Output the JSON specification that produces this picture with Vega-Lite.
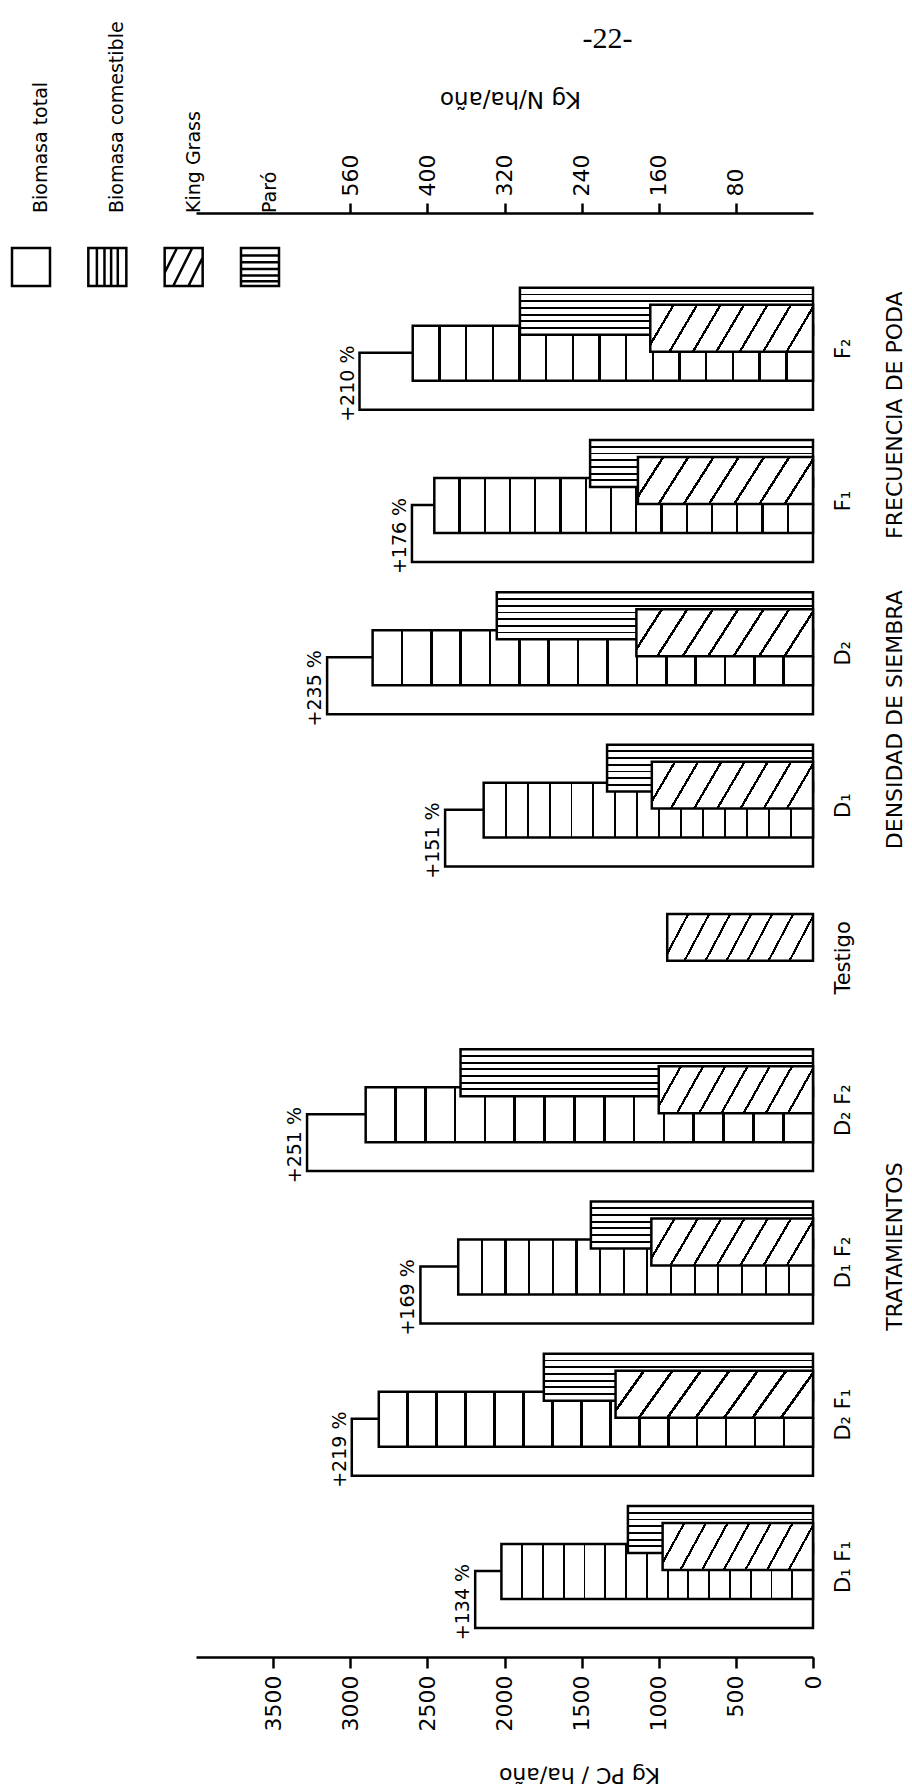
{
  "$schema": "https://vega.github.io/schema/vega-lite/v6.json",
  "width": 617,
  "height": 1511,
  "autosize": {"type": "none"},
  "padding": {"left": 196, "top": 146, "right": 99, "bottom": 131},
  "background": "white",
  "config": {
    "view": {"stroke": null},
    "font": "DejaVu Sans",
    "axis": {"labelColor": "black", "titleColor": "black", "domainColor": "black", "tickColor": "black", "grid": false, "labelFont": "DejaVu Sans", "titleFont": "DejaVu Sans", "titleFontWeight": "normal", "domainWidth": 2.5, "tickWidth": 2.5}
  },
  "title": {"text": "-22-", "font": "Liberation Serif", "fontSize": 30, "fontWeight": "normal", "color": "black", "anchor": "middle", "frame": "group", "dx": 103, "offset": -33},
  "datasets": {
    "bars": [
      {"cat": "D₁  F₁", "series": "Biomasa total", "value": 2190, "label": "+134 %"},
      {"cat": "D₁  F₁", "series": "Biomasa comestible", "value": 2020},
      {"cat": "D₁  F₁", "series": "Paró", "value": 1200},
      {"cat": "D₁  F₁", "series": "King Grass", "value": 975},
      {"cat": "D₂  F₁", "series": "Biomasa total", "value": 2990, "label": "+219 %"},
      {"cat": "D₂  F₁", "series": "Biomasa comestible", "value": 2815},
      {"cat": "D₂  F₁", "series": "Paró", "value": 1745},
      {"cat": "D₂  F₁", "series": "King Grass", "value": 1280},
      {"cat": "D₁  F₂", "series": "Biomasa total", "value": 2545, "label": "+169 %"},
      {"cat": "D₁  F₂", "series": "Biomasa comestible", "value": 2300},
      {"cat": "D₁  F₂", "series": "Paró", "value": 1440},
      {"cat": "D₁  F₂", "series": "King Grass", "value": 1048},
      {"cat": "D₂  F₂", "series": "Biomasa total", "value": 3280, "label": "+251 %"},
      {"cat": "D₂  F₂", "series": "Biomasa comestible", "value": 2900},
      {"cat": "D₂  F₂", "series": "Paró", "value": 2285},
      {"cat": "D₂  F₂", "series": "King Grass", "value": 1000},
      {"cat": "Testigo", "series": "King Grass", "value": 945},
      {"cat": "D₁", "series": "Biomasa total", "value": 2385, "label": "+151 %"},
      {"cat": "D₁", "series": "Biomasa comestible", "value": 2135},
      {"cat": "D₁", "series": "Paró", "value": 1335},
      {"cat": "D₁", "series": "King Grass", "value": 1045},
      {"cat": "D₂", "series": "Biomasa total", "value": 3150, "label": "+235 %"},
      {"cat": "D₂", "series": "Biomasa comestible", "value": 2855},
      {"cat": "D₂", "series": "Paró", "value": 2050},
      {"cat": "D₂", "series": "King Grass", "value": 1145},
      {"cat": "F₁", "series": "Biomasa total", "value": 2600, "label": "+176 %"},
      {"cat": "F₁", "series": "Biomasa comestible", "value": 2455},
      {"cat": "F₁", "series": "Paró", "value": 1445},
      {"cat": "F₁", "series": "King Grass", "value": 1135},
      {"cat": "F₂", "series": "Biomasa total", "value": 2940, "label": "+210 %"},
      {"cat": "F₂", "series": "Biomasa comestible", "value": 2595},
      {"cat": "F₂", "series": "Paró", "value": 1900},
      {"cat": "F₂", "series": "King Grass", "value": 1055}
    ],
    "groups": [
      {"grp": "TRATAMIENTOS", "cat": "D₁  F₂"},
      {"grp": "DENSIDAD DE   SIEMBRA", "cat": "D₂"},
      {"grp": "FRECUENCIA  DE  PODA", "cat": "F₂"}
    ],
    "legend": [
      {"series": "Biomasa total", "label": "Biomasa total"},
      {"series": "Biomasa comestible", "label": "Biomasa comestible"},
      {"series": "King Grass", "label": "King Grass"},
      {"series": "Paró", "label": "Paró"}
    ]
  },
  "layer": [
    {
      "data": {"name": "bars"},
      "layer": [
        {
          "transform": [{"filter": "datum.series === 'Biomasa total'"}],
          "mark": {"type": "bar", "fill": "white", "stroke": "black", "strokeWidth": 2.5, "height": {"band": 0.467}, "yOffset": 32.5},
          "encoding": {
            "x": {"field": "value", "type": "quantitative", "stack": null, "scale": {"domain": [0, 4000], "reverse": true, "nice": false, "zero": true},
              "axis": {"orient": "bottom", "values": [0, 500, 1000, 1500, 2000, 2500, 3000, 3500], "format": "d", "labelAngle": 270, "labelAlign": "right", "labelBaseline": "middle", "labelFontSize": 22, "labelPadding": 7, "labelFlush": false, "labelOverlap": false, "tickSize": 11, "title": "Kg PC / ha/año", "titleFontSize": 22, "titleAngle": 180, "titleAlign": "center", "titleBaseline": "middle", "titleX": 383, "titleY": 117}},
            "y": {"field": "cat", "type": "nominal",
              "scale": {"domain": ["F₂", "F₁", "D₂", "D₁", "Testigo", "D₂  F₂", "D₁  F₂", "D₂  F₁", "D₁  F₁"], "paddingInner": 0.2, "paddingOuter": 0.561, "align": 0.83},
              "axis": {"orient": "right", "title": null, "ticks": false, "labels": false, "domainWidth": 2.5}}
          }
        },
        {
          "transform": [{"filter": "datum.series === 'Biomasa comestible'"}],
          "mark": {"type": "bar", "stroke": "black", "strokeWidth": 2.5, "height": {"band": 0.451}, "yOffset": 4.5,
            "fill": {"gradient": "linear", "x1": 0, "y1": 0, "x2": 1, "y2": 0, "stops": [
              {"offset": 0, "color": "white"},
              {"offset": 0.0637, "color": "white"}, {"offset": 0.0637, "color": "black"}, {"offset": 0.0697, "color": "black"}, {"offset": 0.0697, "color": "white"},
              {"offset": 0.1303, "color": "white"}, {"offset": 0.1303, "color": "black"}, {"offset": 0.1363, "color": "black"}, {"offset": 0.1363, "color": "white"},
              {"offset": 0.197, "color": "white"}, {"offset": 0.197, "color": "black"}, {"offset": 0.203, "color": "black"}, {"offset": 0.203, "color": "white"},
              {"offset": 0.2637, "color": "white"}, {"offset": 0.2637, "color": "black"}, {"offset": 0.2697, "color": "black"}, {"offset": 0.2697, "color": "white"},
              {"offset": 0.3303, "color": "white"}, {"offset": 0.3303, "color": "black"}, {"offset": 0.3363, "color": "black"}, {"offset": 0.3363, "color": "white"},
              {"offset": 0.397, "color": "white"}, {"offset": 0.397, "color": "black"}, {"offset": 0.403, "color": "black"}, {"offset": 0.403, "color": "white"},
              {"offset": 0.4637, "color": "white"}, {"offset": 0.4637, "color": "black"}, {"offset": 0.4697, "color": "black"}, {"offset": 0.4697, "color": "white"},
              {"offset": 0.5303, "color": "white"}, {"offset": 0.5303, "color": "black"}, {"offset": 0.5363, "color": "black"}, {"offset": 0.5363, "color": "white"},
              {"offset": 0.597, "color": "white"}, {"offset": 0.597, "color": "black"}, {"offset": 0.603, "color": "black"}, {"offset": 0.603, "color": "white"},
              {"offset": 0.6637, "color": "white"}, {"offset": 0.6637, "color": "black"}, {"offset": 0.6697, "color": "black"}, {"offset": 0.6697, "color": "white"},
              {"offset": 0.7303, "color": "white"}, {"offset": 0.7303, "color": "black"}, {"offset": 0.7363, "color": "black"}, {"offset": 0.7363, "color": "white"},
              {"offset": 0.797, "color": "white"}, {"offset": 0.797, "color": "black"}, {"offset": 0.803, "color": "black"}, {"offset": 0.803, "color": "white"},
              {"offset": 0.8637, "color": "white"}, {"offset": 0.8637, "color": "black"}, {"offset": 0.8697, "color": "black"}, {"offset": 0.8697, "color": "white"},
              {"offset": 0.9303, "color": "white"}, {"offset": 0.9303, "color": "black"}, {"offset": 0.9363, "color": "black"}, {"offset": 0.9363, "color": "white"},
              {"offset": 1, "color": "white"}
            ]}},
          "encoding": {
            "x": {"field": "value", "type": "quantitative", "stack": null, "scale": {"domain": [0, 4000], "reverse": true, "nice": false, "zero": true},
              "axis": {"orient": "top", "offset": -67, "values": [500, 1000, 1500, 2000, 2500, 3000], "labelExpr": "datum.value == 3000 ? '560' : format(datum.value / 6.25, 'd')", "labelAngle": 270, "labelAlign": "left", "labelBaseline": "middle", "labelFontSize": 22, "labelPadding": 7, "labelFlush": false, "labelOverlap": false, "tickSize": 10, "title": "Kg N/ha/año", "titleFontSize": 23, "titleAngle": 180, "titleAlign": "center", "titleBaseline": "middle", "titleX": 314, "titleY": -115}},
            "y": {"field": "cat", "type": "nominal", "axis": null,
              "scale": {"domain": ["F₂", "F₁", "D₂", "D₁", "Testigo", "D₂  F₂", "D₁  F₂", "D₂  F₁", "D₁  F₁"], "paddingInner": 0.2, "paddingOuter": 0.561, "align": 0.83}}
          }
        },
        {
          "transform": [{"filter": "datum.series === 'Paró'"}],
          "mark": {"type": "bar", "stroke": "black", "strokeWidth": 2.5, "height": {"band": 0.385}, "yOffset": -37.5,
            "fill": {"gradient": "linear", "x1": 0, "y1": 0, "x2": 0, "y2": 1, "stops": [
              {"offset": 0, "color": "white"},
              {"offset": 0.1229, "color": "white"}, {"offset": 0.1229, "color": "black"}, {"offset": 0.1629, "color": "black"}, {"offset": 0.1629, "color": "white"},
              {"offset": 0.2657, "color": "white"}, {"offset": 0.2657, "color": "black"}, {"offset": 0.3057, "color": "black"}, {"offset": 0.3057, "color": "white"},
              {"offset": 0.4086, "color": "white"}, {"offset": 0.4086, "color": "black"}, {"offset": 0.4486, "color": "black"}, {"offset": 0.4486, "color": "white"},
              {"offset": 0.5514, "color": "white"}, {"offset": 0.5514, "color": "black"}, {"offset": 0.5914, "color": "black"}, {"offset": 0.5914, "color": "white"},
              {"offset": 0.6943, "color": "white"}, {"offset": 0.6943, "color": "black"}, {"offset": 0.7343, "color": "black"}, {"offset": 0.7343, "color": "white"},
              {"offset": 0.8371, "color": "white"}, {"offset": 0.8371, "color": "black"}, {"offset": 0.8771, "color": "black"}, {"offset": 0.8771, "color": "white"},
              {"offset": 1, "color": "white"}
            ]}},
          "encoding": {
            "x": {"field": "value", "type": "quantitative", "stack": null, "scale": {"domain": [0, 4000], "reverse": true, "nice": false, "zero": true}, "axis": null},
            "y": {"field": "cat", "type": "nominal", "axis": null,
              "scale": {"domain": ["F₂", "F₁", "D₂", "D₁", "Testigo", "D₂  F₂", "D₁  F₂", "D₂  F₁", "D₁  F₁"], "paddingInner": 0.2, "paddingOuter": 0.561, "align": 0.83}}
          }
        },
        {
          "transform": [{"filter": "datum.series === 'King Grass'"}],
          "mark": {"type": "bar", "stroke": "black", "strokeWidth": 2.5, "height": {"band": 0.385}, "yOffset": -20.5,
            "fill": {"gradient": "linear", "x1": 0, "y1": 0, "x2": 1, "y2": 0.17, "stops": [
              {"offset": 0, "color": "white"},
              {"offset": 0.132, "color": "white"}, {"offset": 0.132, "color": "black"}, {"offset": 0.148, "color": "black"}, {"offset": 0.148, "color": "white"},
              {"offset": 0.272, "color": "white"}, {"offset": 0.272, "color": "black"}, {"offset": 0.288, "color": "black"}, {"offset": 0.288, "color": "white"},
              {"offset": 0.412, "color": "white"}, {"offset": 0.412, "color": "black"}, {"offset": 0.428, "color": "black"}, {"offset": 0.428, "color": "white"},
              {"offset": 0.552, "color": "white"}, {"offset": 0.552, "color": "black"}, {"offset": 0.568, "color": "black"}, {"offset": 0.568, "color": "white"},
              {"offset": 0.692, "color": "white"}, {"offset": 0.692, "color": "black"}, {"offset": 0.708, "color": "black"}, {"offset": 0.708, "color": "white"},
              {"offset": 0.832, "color": "white"}, {"offset": 0.832, "color": "black"}, {"offset": 0.848, "color": "black"}, {"offset": 0.848, "color": "white"},
              {"offset": 0.972, "color": "white"}, {"offset": 0.972, "color": "black"}, {"offset": 0.988, "color": "black"}, {"offset": 0.988, "color": "white"},
              {"offset": 1, "color": "white"}
            ]}},
          "encoding": {
            "x": {"field": "value", "type": "quantitative", "stack": null, "scale": {"domain": [0, 4000], "reverse": true, "nice": false, "zero": true}, "axis": null},
            "y": {"field": "cat", "type": "nominal", "axis": null,
              "scale": {"domain": ["F₂", "F₁", "D₂", "D₁", "Testigo", "D₂  F₂", "D₁  F₂", "D₂  F₁", "D₁  F₁"], "paddingInner": 0.2, "paddingOuter": 0.561, "align": 0.83}}
          }
        },
        {
          "transform": [{"filter": "datum.series === 'King Grass'"}],
          "mark": {"type": "text", "angle": 270, "align": "center", "baseline": "top", "fontSize": 21, "color": "black"},
          "encoding": {
            "x": {"datum": -130, "type": "quantitative", "scale": {"domain": [0, 4000], "reverse": true, "nice": false, "zero": true}, "axis": null},
            "y": {"field": "cat", "type": "nominal", "axis": null,
              "scale": {"domain": ["F₂", "F₁", "D₂", "D₁", "Testigo", "D₂  F₂", "D₁  F₂", "D₂  F₁", "D₁  F₁"], "paddingInner": 0.2, "paddingOuter": 0.561, "align": 0.83}},
            "text": {"field": "cat", "type": "nominal"}
          }
        },
        {
          "transform": [{"filter": "datum.series === 'Biomasa total'"}],
          "mark": {"type": "text", "angle": 270, "align": "left", "baseline": "alphabetic", "dy": -6, "fontSize": 19, "color": "black"},
          "encoding": {
            "x": {"field": "value", "type": "quantitative", "stack": null, "scale": {"domain": [0, 4000], "reverse": true, "nice": false, "zero": true}, "axis": null},
            "y": {"field": "cat", "type": "nominal", "axis": null, "bandPosition": 1.1,
              "scale": {"domain": ["F₂", "F₁", "D₂", "D₁", "Testigo", "D₂  F₂", "D₁  F₂", "D₂  F₁", "D₁  F₁"], "paddingInner": 0.2, "paddingOuter": 0.561, "align": 0.83}},
            "text": {"field": "label", "type": "nominal"}
          }
        },
        {
          "data": {"name": "groups"},
          "transform": [{"filter": "datum.grp === 'TRATAMIENTOS'"}],
          "mark": {"type": "text", "angle": 270, "align": "center", "baseline": "middle", "fontSize": 22, "color": "black"},
          "encoding": {
            "x": {"datum": -530, "type": "quantitative", "scale": {"domain": [0, 4000], "reverse": true, "nice": false, "zero": true}, "axis": null},
            "y": {"field": "cat", "type": "nominal", "axis": null, "bandPosition": 0.37,
              "scale": {"domain": ["F₂", "F₁", "D₂", "D₁", "Testigo", "D₂  F₂", "D₁  F₂", "D₂  F₁", "D₁  F₁"], "paddingInner": 0.2, "paddingOuter": 0.561, "align": 0.83}},
            "text": {"field": "grp", "type": "nominal"}
          }
        },
        {
          "data": {"name": "groups"},
          "transform": [{"filter": "datum.grp !== 'TRATAMIENTOS'"}],
          "mark": {"type": "text", "angle": 270, "align": "center", "baseline": "middle", "fontSize": 22, "color": "black"},
          "encoding": {
            "x": {"datum": -530, "type": "quantitative", "scale": {"domain": [0, 4000], "reverse": true, "nice": false, "zero": true}, "axis": null},
            "y": {"field": "cat", "type": "nominal", "axis": null, "bandPosition": 1.045,
              "scale": {"domain": ["F₂", "F₁", "D₂", "D₁", "Testigo", "D₂  F₂", "D₁  F₂", "D₂  F₁", "D₁  F₁"], "paddingInner": 0.2, "paddingOuter": 0.561, "align": 0.83}},
            "text": {"field": "grp", "type": "nominal"}
          }
        }
      ]
    },
    {
      "data": {"name": "legend"},
      "encoding": {
        "x": {"field": "series", "type": "nominal", "axis": null, "scale": {"type": "point", "domain": ["Biomasa total", "Biomasa comestible", "King Grass", "Paró"], "range": [-165, 64], "padding": 0}},
        "y": {"field": "series", "type": "nominal", "axis": null, "scale": {"type": "point", "domain": ["Biomasa total", "Biomasa comestible", "King Grass", "Paró"], "range": [121, 121], "padding": 0}}
      },
      "layer": [
        {
          "mark": {"type": "point", "filled": true, "fill": "white", "stroke": "black", "strokeWidth": 2.5, "size": 1444, "opacity": 1, "fillOpacity": 1},
          "encoding": {
            "shape": {"field": "series", "type": "nominal", "legend": null,
              "scale": {"domain": ["Biomasa total", "Biomasa comestible", "King Grass", "Paró"],
                "range": ["M-1,-1H1V1H-1Z", "M-1,-1H1V1H-1Z M-0.55,-1V1 M-0.15,-1V1 M0.2,-1V1 M0.55,-1V1", "M-1,-1H1V1H-1Z M-1,0.3L-0.35,-1 M-0.55,1L0.45,-1 M0.25,1L1,-0.5", "M-1,-1H1V1H-1Z M-1,-0.6H1 M-1,-0.25H1 M-1,0.1H1 M-1,0.45H1 M-1,0.75H1"]}}
          }
        },
        {
          "mark": {"type": "text", "angle": 270, "align": "left", "baseline": "middle", "dx": 54, "dy": 10, "fontSize": 19, "color": "black"},
          "encoding": {"text": {"field": "label", "type": "nominal"}}
        }
      ]
    }
  ],
  "resolve": {"scale": {"x": "independent", "y": "independent", "shape": "independent"}}
}
